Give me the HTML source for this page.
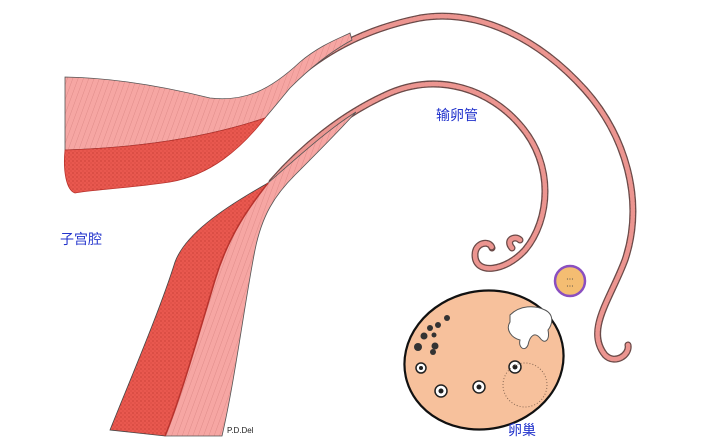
<!DOCTYPE html>
<html><head><meta charset="utf-8"><style>
html,body{margin:0;padding:0;background:#fff;}
svg{display:block}
text{font-family:"Liberation Sans","Noto Sans CJK SC",sans-serif;}
</style></head><body>
<svg width="710" height="446" viewBox="0 0 710 446" xmlns="http://www.w3.org/2000/svg">
<defs>
<pattern id="hatch" width="5" height="5" patternUnits="userSpaceOnUse" patternTransform="rotate(20)">
<rect width="5" height="5" fill="#f6a6a3"/><line x1="0" y1="0" x2="0" y2="5" stroke="#d98682" stroke-width="0.8"/>
</pattern>
<pattern id="dots" width="4" height="4" patternUnits="userSpaceOnUse">
<rect width="4" height="4" fill="#e9584f"/><circle cx="1" cy="1" r="0.6" fill="#b8332d"/><circle cx="3" cy="3" r="0.5" fill="#c33c35"/>
</pattern>
</defs>
<!-- outer tube rope -->
<path d="M290,82 C320,55 360,30 420,18 C480,8 540,40 585,90 C625,135 645,200 625,260 C610,300 585,330 605,355 C615,365 630,355 628,345" fill="none" stroke="#6b4a48" stroke-width="7" stroke-linecap="round"/>
<path d="M290,82 C320,55 360,30 420,18 C480,8 540,40 585,90 C625,135 645,200 625,260 C610,300 585,330 605,355 C615,365 630,355 628,345" fill="none" stroke="#ec9590" stroke-width="4.5" stroke-linecap="round" stroke-dasharray="2 1.5"/>
<!-- inner tube rope -->
<path d="M272,182 C300,150 340,115 390,93 C440,72 490,90 520,125 C555,165 550,220 525,250 C505,272 475,275 475,255 C475,242 490,240 492,248" fill="none" stroke="#6b4a48" stroke-width="7" stroke-linecap="round"/>
<path d="M272,182 C300,150 340,115 390,93 C440,72 490,90 520,125 C555,165 550,220 525,250 C505,272 475,275 475,255 C475,242 490,240 492,248" fill="none" stroke="#ec9590" stroke-width="4.5" stroke-linecap="round" stroke-dasharray="2 1.5"/>
<path d="M512,248 C505,240 515,235 520,240" fill="none" stroke="#6b4a48" stroke-width="7" stroke-linecap="round"/>
<path d="M512,248 C505,240 515,235 520,240" fill="none" stroke="#ec9590" stroke-width="4.5" stroke-linecap="round"/>
<!-- upper wall -->
<path d="M65,77 C120,78 170,88 210,98 C245,102 270,90 300,62 C320,45 340,38 350,33 L352,40 C330,52 310,68 290,88 C280,100 272,110 265,118 C200,140 130,148 65,150 Z" fill="url(#hatch)" stroke="#555" stroke-width="0.8"/>
<path d="M65,150 C130,148 200,140 265,118 C240,150 210,175 170,182 C130,188 90,190 75,193 C66,190 63,170 65,150 Z" fill="url(#dots)" stroke="#b8332d" stroke-width="0.8"/>
<!-- lower wall -->
<path d="M110,430 C130,380 160,310 175,262 C185,235 220,210 268,183 C255,200 230,230 215,280 C200,330 180,400 165,436 Z" fill="url(#dots)" stroke="#444" stroke-width="0.8"/>
<path d="M268,183 C255,200 230,230 215,280 C200,330 180,400 165,436 L222,436 C235,380 245,300 255,250 C262,215 275,195 295,175 C320,150 340,130 356,112 C330,128 300,155 268,183 Z" fill="url(#hatch)" stroke="#555" stroke-width="0.8"/>
<path d="M268,183 C255,200 230,230 215,280 C200,330 180,400 165,436" fill="none" stroke="#b8332d" stroke-width="1.5"/>
<!-- ovary -->
<ellipse cx="484" cy="360" rx="80" ry="69" transform="rotate(-12 484 360)" fill="#f7c19c" stroke="#111" stroke-width="2.2"/>
<g fill="#333">
<circle cx="418" cy="347" r="4"/><circle cx="424" cy="336" r="3.5"/><circle cx="430" cy="328" r="3"/><circle cx="438" cy="325" r="3"/><circle cx="447" cy="318" r="3"/>
<circle cx="435" cy="346" r="3.5"/><circle cx="433" cy="352" r="3"/><circle cx="434" cy="335" r="2.5"/>
</g>
<g fill="#fff" stroke="#222" stroke-width="1.5">
<circle cx="421" cy="368" r="5"/><circle cx="441" cy="391" r="6"/><circle cx="479" cy="387" r="6"/><circle cx="515" cy="367" r="6"/>
</g>
<g fill="#222"><circle cx="421" cy="368" r="2"/><circle cx="441" cy="391" r="2.5"/><circle cx="479" cy="387" r="2.5"/><circle cx="515" cy="367" r="2.5"/></g>
<circle cx="525" cy="385" r="22" fill="none" stroke="#8a6a55" stroke-width="1" stroke-dasharray="1 2"/>
<!-- ruptured follicle -->
<path d="M510,315 C520,305 535,305 545,310 C555,315 552,325 548,330 C550,340 545,345 540,338 C535,332 530,335 528,345 C525,352 518,348 520,340 C512,338 505,330 510,322 Z" fill="#fff" stroke="#555" stroke-width="1"/>
<!-- egg -->
<circle cx="570" cy="281" r="15" fill="#f4bd72" stroke="#8a4fc0" stroke-width="2.5"/>
<text x="570" y="280" font-size="4" text-anchor="middle" fill="#444">• • •</text>
<text x="570" y="287" font-size="4" text-anchor="middle" fill="#444">• • •</text>
<!-- labels -->
<text x="436" y="120" font-size="14" fill="#2233cc">输卵管</text>
<text x="60" y="244" font-size="14" fill="#2233cc">子宫腔</text>
<text x="508" y="435" font-size="14" fill="#2233cc">卵巢</text>
<text x="227" y="433" font-size="8" fill="#222" font-family="Liberation Serif">P.D.Del</text>
</svg>
</body></html>
